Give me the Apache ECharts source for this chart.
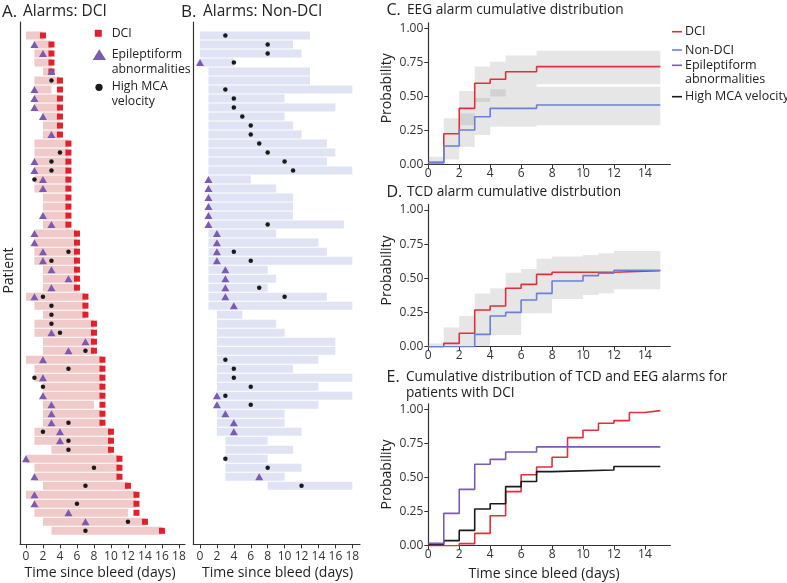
<!DOCTYPE html>
<html><head><meta charset="utf-8">
<script src="https://cdn.jsdelivr.net/npm/echarts@6/dist/echarts.min.js"></script>
<style>html,body{margin:0;padding:0;background:#fff}#c{width:787px;height:583px}</style>
</head><body><div id="c"></div>
<script>
// ---------- Panel A: DCI patients (one entry per row, top to bottom) ----------
const dciStart = [0,1,1,1,2,1,1,1,1,2, 2,2,1,1,1,1,1,1,2,2, 2,2,1,1,1,1,2,2,2,0, 1,2,1,1,2,2,0,1,1,2, 2,2,2,2,1,1,3,0,1,1, 2,0,1,1,2,3];
const dciEnd   = [2,3,3,3,3,4,3,4,4,4, 4,4,5,5,5,5,5,5,5,5, 5,5,6,6,6,6,6,6,6,7, 7,7,8,8,8,8,9,9,9,9, 9,8,9,9,10,10,10,11,11,11, 12,13,13,12,14,16];
const dciDay   = [2,3,3,3,3,4,4,4,4,4, 4,4,5,5,5,5,5,5,5,5, 5,5,6,6,6,6,6,6,6,7, 7,7,8,8,8,8,9,9,9,9, 9,9,9,9,10,10,10,11,11,11, 12,13,13,13,14,16];
const dciEpiRow = [1,2,4,6,7,8,9,11,14,15, 16,17,20,21,22,23,24,25,26,27, 28,29,33,34,35,36,38,40,41,42, 43,44,45,47,49,51,52,53,54];
const dciEpiDay = [1,2,3,1,1,1,2,3,1,1, 2,2,2,3,1,1,2,2,3,5, 3,1,3,7,5,2,2,2,3,3, 3,4,4,0,1,1,1,5,7];
const dciTcdRow = [5,13,14,15,16,24,25,29,30,31,32,33,35,37,38,39,43,44,45,46,48,50,52,54,55];
const dciTcdDay = [3,4,3,3,1,5,3,2,3,3,3,4,7,5,1,2,5,2,5,5,8,7,6,12,7];

// ---------- Panel B: non-DCI patients ----------
const nonStart = [0,0,0,0,1,1,1,1,1,1, 1,1,1,1,1,1,1,1,1,1, 1,1,1,1,1,1,1,1,1,1, 1,2,2,2,2,2,2,2,2,2, 2,2,2,2,2,3,3,3,3,3, 8];
const nonEnd   = [13,11,12,4,13,13,18,10,16,10, 11,12,15,16,15,18,6,9,11,11, 11,17,9,14,15,18,8,9,8,15, 18,5,9,10,16,16,14,11,18,14, 18,14,10,10,12,8,11,8,12,10, 18];
const nonEpiRow = [3,16,17,18,19,20,21,22,23,24,25,26,27,28,29,30,40,41,42,43,44,49];
const nonEpiDay = [0,1,1,1,1,1,1,2,2,2,2,3,3,3,3,4,2,2,3,4,4,7];
const nonTcdRow = [0,1,2,3,6,7,8,9,10,11,12,13,14,15,21,24,25,28,29,36,37,38,39,40,41,47,48,50];
const nonTcdDay = [3,8,8,4,3,4,4,5,6,6,7,8,10,11,8,4,6,7,10,3,4,4,6,3,6,3,8,12];

const dayTicks = [0,2,4,6,8,10,12,14,16,18];

// ---------- Panel C: EEG alarm cumulative distribution ----------
const eegDciX = [0,1,2,3,4,5,7,15];
const eegDciY = [0.015,0.227,0.413,0.597,0.626,0.682,0.719,0.719];
const eegNonX = [0,1,2,3,4,7,15];
const eegNonY = [0.017,0.137,0.254,0.352,0.413,0.438,0.438];
// confidence bands: [x0, x1, lower, upper]
const eegDciBand = [[0,1,0,0.059],[1,2,0.14,0.34],[2,3,0.29,0.54],[3,4,0.46,0.72],[4,5,0.50,0.755],[5,7,0.555,0.80],[7,15,0.59,0.836]];
const eegNonBand = [[1,2,0.039,0.14],[2,3,0.13,0.376],[3,4,0.218,0.49],[4,5,0.279,0.553],[5,7,0.279,0.555],[7,15,0.29,0.572]];

// ---------- Panel D: TCD alarm cumulative distribution ----------
const tcdDciX = [0,1,2,3,4,5,6,7,8,12,15];
const tcdDciY = [0,0.024,0.098,0.268,0.298,0.427,0.456,0.529,0.544,0.556,0.556];
const tcdNonX = [0,3,4,5,6,7,8,10,11,12,15];
const tcdNonY = [0,0.09,0.224,0.251,0.341,0.39,0.48,0.52,0.537,0.559,0.559];
const tcdBand = [[0,1,0,0.024],[1,2,0,0.141],[2,3,0,0.224],[3,4,0,0.39],[4,5,0.085,0.427],[5,6,0.085,0.541],[6,7,0.244,0.568],[7,8,0.244,0.644],[8,10,0.349,0.659],[10,11,0.378,0.67],[11,12,0.39,0.683],[12,15,0.42,0.70]];

// ---------- Panel E: alarms for patients with DCI ----------
const eDciX = [0,2,3,4,5,6,7,8,9,10,11,12,13,14,15];
const eDciY = [0,0.015,0.09,0.22,0.396,0.52,0.577,0.648,0.792,0.846,0.897,0.917,0.976,0.99,0.99];
const eEpiX = [0,1,2,3,4,5,7,15];
const eEpiY = [0.017,0.237,0.413,0.597,0.633,0.687,0.724,0.724];
const eTcdX = [0,1,2,3,4,5,6,7,8,12,15];
const eTcdY = [0.01,0.037,0.112,0.269,0.308,0.433,0.47,0.543,0.555,0.58,0.58];

const probTicks = [0,0.25,0.5,0.75,1];

// ---------- styling ----------
const FF = '"Open Sans", sans-serif';
const RED = '#e0313a', BLUE = '#6a80d8', PURPLE = '#7b5ab4', BLACK = '#1a1a1a';
const TXT = '#222';
const zip = (xs, ys) => xs.map((x, i) => [x, ys[i]]);

function barRender(fill) {
  return function (params, api) {
    const a = api.coord([api.value(0), api.value(2)]);
    const b = api.coord([api.value(1), api.value(2)]);
    const h = Math.abs(api.size([0, 1])[1]) - 1;
    return { type: 'rect', shape: { x: a[0], y: a[1] - h / 2, width: b[0] - a[0], height: h }, style: { fill } };
  };
}
function bandRender(fill) {
  return function (params, api) {
    const a = api.coord([api.value(0), api.value(3)]);
    const b = api.coord([api.value(1), api.value(2)]);
    return { type: 'rect', shape: { x: a[0], y: a[1], width: b[0] - a[0], height: b[1] - a[1] }, style: { fill } };
  };
}

const axisCommon = {
  axisLine: { onZero: false, lineStyle: { color: '#333', width: 1.2 } },
  splitLine: { show: false }
};
function dayAxis(idx, min, max) {
  return Object.assign({}, axisCommon, {
    type: 'value', gridIndex: idx, min, max,
    axisTick: { show: true, length: 4, lineStyle: { color: '#333' }, customValues: dayTicks },
    axisLabel: { customValues: dayTicks, fontFamily: FF, fontSize: 12, color: '#333', margin: 6 }
  });
}
function rowAxis(idx) {
  return Object.assign({}, axisCommon, {
    type: 'value', gridIndex: idx, min: -1.5, max: 56.5, inverse: true,
    axisTick: { show: false }, axisLabel: { show: false }
  });
}
function probXAxis(idx) {
  return Object.assign({}, axisCommon, {
    type: 'value', gridIndex: idx, min: 0, max: 15.65,
    axisTick: { show: true, length: 4, lineStyle: { color: '#333' }, customValues: [0,2,4,6,8,10,12,14] },
    axisLabel: { customValues: [0,2,4,6,8,10,12,14], fontFamily: FF, fontSize: 12, color: '#333', margin: 3 }
  });
}
function probYAxis(idx) {
  return Object.assign({}, axisCommon, {
    type: 'value', gridIndex: idx, min: 0, max: 1.04,
    axisTick: { show: true, length: 4, lineStyle: { color: '#333' }, customValues: probTicks },
    axisLabel: { customValues: probTicks, formatter: v => v.toFixed(2), fontFamily: FF, fontSize: 12, color: '#333', margin: 5 }
  });
}
function stepLine(name, xi, yi, xs, ys, color) {
  return { type: 'line', name, xAxisIndex: xi, yAxisIndex: yi, step: 'end', data: zip(xs, ys),
    showSymbol: false, lineStyle: { color, width: 1.6 }, itemStyle: { color }, z: 5 };
}
function marks(name, xi, rows, days, symbol, size, color) {
  return { type: 'scatter', name, xAxisIndex: xi, yAxisIndex: xi, data: days.map((d, i) => [d, rows[i]]),
    symbol, symbolSize: size, itemStyle: { color, opacity: 1 }, z: 4 };
}
function txt(x, y, text, size, extra) {
  return Object.assign({ type: 'text', x, y, style: { text, font: size + 'px ' + FF, fill: TXT, verticalAlign: 'middle', align: 'left' } }, extra || {});
}
function rtxt(x, y, text, size) {
  return { type: 'text', x, y, rotation: Math.PI / 2, style: { text, font: size + 'px ' + FF, fill: TXT, verticalAlign: 'middle', align: 'center' } };
}
function ctxt(x, y, text, size) {
  return { type: 'text', x, y, style: { text, font: size + 'px ' + FF, fill: TXT, verticalAlign: 'middle', align: 'center' } };
}

const rowsA = dciStart.map((s, i) => i);
const rowsB = nonStart.map((s, i) => i);

const option = {
  animation: false,
  grid: [
    { left: 20, top: 22, width: 165, height: 522.3 },
    { left: 193.3, top: 22, width: 166.7, height: 522.3 },
    { left: 428.3, top: 22.85, width: 242.1, height: 141.85 },
    { left: 428.3, top: 204.5, width: 242.1, height: 142.2 },
    { left: 428.3, top: 403.8, width: 242.1, height: 141.9 }
  ],
  xAxis: [dayAxis(0, -0.7, 18.71), dayAxis(1, -0.79, 18.91), probXAxis(2), probXAxis(3), probXAxis(4)],
  yAxis: [rowAxis(0), rowAxis(1), probYAxis(2), probYAxis(3), probYAxis(4)],
  series: [
    { type: 'custom', name: 'DCI monitoring', xAxisIndex: 0, yAxisIndex: 0, renderItem: barRender('#f0c9c9'),
      encode: { x: [0, 1], y: 2 }, data: rowsA.map(i => [dciStart[i], dciEnd[i], i]), z: 1 },
    marks('DCI', 0, rowsA, dciDay, 'rect', 6, '#e0202b'),
    marks('Epileptiform abnormalities', 0, dciEpiRow, dciEpiDay, 'triangle', [8, 7], PURPLE),
    marks('High MCA velocity', 0, dciTcdRow, dciTcdDay, 'circle', 4.5, BLACK),

    { type: 'custom', name: 'Non-DCI monitoring', xAxisIndex: 1, yAxisIndex: 1, renderItem: barRender('#dfe3f4'),
      encode: { x: [0, 1], y: 2 }, data: rowsB.map(i => [nonStart[i], nonEnd[i], i]), z: 1 },
    marks('Epileptiform abnormalities (non-DCI)', 1, nonEpiRow, nonEpiDay, 'triangle', [8, 7], PURPLE),
    marks('High MCA velocity (non-DCI)', 1, nonTcdRow, nonTcdDay, 'circle', 4.5, BLACK),

    { type: 'custom', name: 'EEG DCI CI', xAxisIndex: 2, yAxisIndex: 2, renderItem: bandRender('rgba(130,130,130,0.2)'),
      encode: { x: [0, 1], y: [2, 3] }, data: eegDciBand, z: 1 },
    { type: 'custom', name: 'EEG Non-DCI CI', xAxisIndex: 2, yAxisIndex: 2, renderItem: bandRender('rgba(130,130,130,0.2)'),
      encode: { x: [0, 1], y: [2, 3] }, data: eegNonBand, z: 1 },
    stepLine('EEG DCI', 2, 2, eegDciX, eegDciY, RED),
    stepLine('EEG Non-DCI', 2, 2, eegNonX, eegNonY, BLUE),

    { type: 'custom', name: 'TCD CI', xAxisIndex: 3, yAxisIndex: 3, renderItem: bandRender('rgba(130,130,130,0.2)'),
      encode: { x: [0, 1], y: [2, 3] }, data: tcdBand, z: 1 },
    stepLine('TCD DCI', 3, 3, tcdDciX, tcdDciY, RED),
    stepLine('TCD Non-DCI', 3, 3, tcdNonX, tcdNonY, BLUE),

    stepLine('E DCI', 4, 4, eDciX, eDciY, RED),
    stepLine('E High MCA velocity', 4, 4, eTcdX, eTcdY, BLACK),
    stepLine('E Epileptiform', 4, 4, eEpiX, eEpiY, PURPLE)
  ],
  graphic: [
    // panel titles
    txt(2, 12, 'A.', 17), txt(23, 12, 'Alarms: DCI', 15.5),
    txt(181, 12, 'B.', 17), txt(203, 12, 'Alarms: Non-DCI', 15.5),
    txt(386.5, 10, 'C.', 16), txt(407, 10, 'EEG alarm cumulative distribution', 13.7),
    txt(386.5, 192, 'D.', 16), txt(407, 192, 'TCD alarm cumulative distrbution', 13.7),
    txt(386.5, 377, 'E.', 16), txt(406, 377, 'Cumulative distribution of TCD and EEG alarms for', 13.7),
    txt(406, 393.5, 'patients with DCI', 13.7),
    // axis names
    rtxt(9, 270.5, 'Patient', 14),
    ctxt(100, 573.5, 'Time since bleed (days)', 14),
    ctxt(277.5, 573.5, 'Time since bleed (days)', 14),
    ctxt(544, 574.5, 'Time since bleed (days)', 14),
    rtxt(387, 88.3, 'Probability', 14), rtxt(387, 270.5, 'Probability', 14), rtxt(387, 474.5, 'Probability', 14),
    // legend panel A
    { type: 'rect', shape: { x: 94.8, y: 29.8, width: 7, height: 7 }, style: { fill: '#e0202b' } },
    txt(111.7, 33.3, 'DCI', 12.3),
    { type: 'polygon', shape: { points: [[92.7, 60], [106, 60], [99.3, 49.3]] }, style: { fill: PURPLE } },
    txt(111.7, 54.5, 'Epileptiform', 12.3), txt(111.7, 69.5, 'abnormalities', 12.3),
    { type: 'circle', shape: { cx: 99, cy: 87.3, r: 3.6 }, style: { fill: BLACK } },
    txt(111.7, 86.8, 'High MCA', 12.3), txt(111.7, 101, 'velocity', 12.3),
    // legend panel C
    { type: 'line', shape: { x1: 672, y1: 31.7, x2: 682, y2: 31.7 }, style: { stroke: RED, lineWidth: 1.6 } },
    txt(685, 31.7, 'DCI', 12.5),
    { type: 'line', shape: { x1: 672, y1: 50, x2: 682, y2: 50 }, style: { stroke: BLUE, lineWidth: 1.6 } },
    txt(685, 50, 'Non-DCI', 12.5),
    { type: 'line', shape: { x1: 672, y1: 65.3, x2: 682, y2: 65.3 }, style: { stroke: PURPLE, lineWidth: 1.6 } },
    txt(685, 65, 'Epileptiform', 12.5), txt(685, 79.3, 'abnormalities', 12.5),
    { type: 'line', shape: { x1: 672, y1: 96.7, x2: 682, y2: 96.7 }, style: { stroke: BLACK, lineWidth: 1.6 } },
    txt(685, 96.7, 'High MCA velocity', 12.5)
  ]
};
const chart = echarts.init(document.getElementById('c'));
chart.setOption(option);
</script>
</body></html>
